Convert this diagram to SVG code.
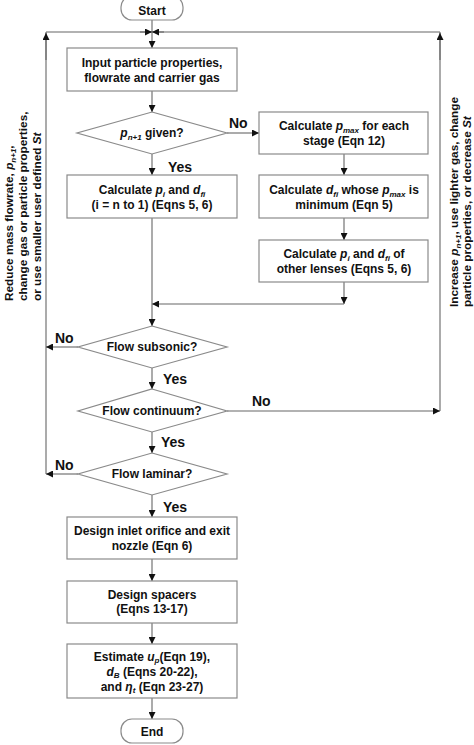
<svg xmlns="http://www.w3.org/2000/svg" width="474" height="745" viewBox="0 0 474 745">
<style>
  text { font-family: "Liberation Sans", Arial, sans-serif; font-weight: bold; font-size: 12px; fill: #111; }
  .c { text-anchor: middle; }
  .lbl { font-size: 14px; }
  .side { font-size: 11.8px; }
  .box { fill: #fff; stroke: #8a8a8a; stroke-width: 1.2; }
  .dia { fill: #fff; stroke: #8a8a8a; stroke-width: 1.2; }
  .ln { fill: none; stroke: #666; stroke-width: 1.1; }
  .i { font-style: italic; }
  .s { font-size: 8px; font-style: italic; }
</style>
<defs>
  <marker id="ah" viewBox="0 0 10 10" refX="10" refY="5" markerWidth="8" markerHeight="7" markerUnits="userSpaceOnUse" orient="auto">
    <path d="M0,0 L10,5 L0,10 Z" fill="#111"/>
  </marker>
</defs>
<rect width="474" height="745" fill="#fff"/>

<g id="connectors">
  <line class="ln" x1="152" y1="20" x2="152" y2="32"/>
  <line class="ln" x1="46" y1="474" x2="46" y2="32"/>
  <line class="ln" x1="46" y1="32" x2="440" y2="32"/>
  <line class="ln" x1="440" y1="411" x2="440" y2="32"/>
  <path class="ln" d="M46,60 L46,33" marker-end="url(#ah)"/>
  <path class="ln" d="M440,60 L440,33" marker-end="url(#ah)"/>
  <path class="ln" d="M140,32 L152,32" marker-end="url(#ah)"/>
  <path class="ln" d="M164,32 L152,32" marker-end="url(#ah)"/>
  <path class="ln" d="M152,32 L152,48" marker-end="url(#ah)"/>
  <path class="ln" d="M152,91 L152,112" marker-end="url(#ah)"/>
  <path class="ln" d="M227,133 L259,133" marker-end="url(#ah)"/>
  <path class="ln" d="M152,154 L152,175" marker-end="url(#ah)"/>
  <path class="ln" d="M344,154 L344,175" marker-end="url(#ah)"/>
  <path class="ln" d="M344,218 L344,240" marker-end="url(#ah)"/>
  <path class="ln" d="M344,282 L344,304" marker-end="url(#ah)"/>
  <path class="ln" d="M344,304 L152,304" marker-end="url(#ah)"/>
  <path class="ln" d="M152,218 L152,326" marker-end="url(#ah)"/>
  <path class="ln" d="M78,347 L46,347" marker-end="url(#ah)"/>
  <path class="ln" d="M152,368 L152,389" marker-end="url(#ah)"/>
  <path class="ln" d="M227,411 L440,411" marker-end="url(#ah)"/>
  <path class="ln" d="M152,432 L152,453" marker-end="url(#ah)"/>
  <path class="ln" d="M78,474 L46,474" marker-end="url(#ah)"/>
  <path class="ln" d="M152,495 L152,517" marker-end="url(#ah)"/>
  <path class="ln" d="M152,559 L152,581" marker-end="url(#ah)"/>
  <path class="ln" d="M152,623 L152,644" marker-end="url(#ah)"/>
  <path class="ln" d="M152,698 L152,719" marker-end="url(#ah)"/>
  <text class="lbl" x="229" y="128">No</text>
  <text class="lbl" x="168" y="172">Yes</text>
  <text class="lbl" x="55" y="343">No</text>
  <text class="lbl" x="163" y="384">Yes</text>
  <text class="lbl" x="252" y="406">No</text>
  <text class="lbl" x="161" y="447">Yes</text>
  <text class="lbl" x="55" y="470">No</text>
  <text class="lbl" x="163" y="512">Yes</text>
  <text class="side" transform="translate(13,301) rotate(-90)">Reduce mass flowrate, <tspan class="i">p</tspan><tspan class="s" dy="2.5">n+1</tspan><tspan dy="-2.5">,</tspan></text>
  <text class="side" transform="translate(27,301) rotate(-90)">change gas or particle properties,</text>
  <text class="side" transform="translate(41,301) rotate(-90)">or use smaller user defined <tspan class="i">St</tspan></text>
  <text class="side" transform="translate(458,307) rotate(-90)">Increase <tspan class="i">p</tspan><tspan class="s" dy="2.5">n+1</tspan><tspan dy="-2.5">, use lighter gas, change</tspan></text>
  <text class="side" transform="translate(470.5,307) rotate(-90)">particle properties, or decrease <tspan class="i">St</tspan></text>
</g>

<g id="start">
  <rect class="box" x="121" y="-4" width="62" height="24" rx="11"/>
  <text class="c" x="152" y="15">Start</text>
</g>
<g id="input">
  <rect class="box" x="67" y="48" width="170" height="43"/>
  <text class="c" x="152" y="66.5">Input particle properties,</text>
  <text class="c" x="152" y="81.5">flowrate and carrier gas</text>
</g>
<g id="pgiven">
  <polygon class="dia" points="152,112 227,133 152,154 77,133"/>
  <text class="c" x="152" y="137"><tspan class="i">p</tspan><tspan class="s" dy="3">n+1</tspan><tspan dy="-3"> given?</tspan></text>
</g>
<g id="pmax">
  <rect class="box" x="259" y="112" width="169" height="42"/>
  <text class="c" x="344" y="130">Calculate  <tspan class="i">p</tspan><tspan class="s" dy="3">max</tspan><tspan dy="-3"> for each</tspan></text>
  <text class="c" x="344" y="145">stage (Eqn 12)</text>
</g>
<g id="calcpi">
  <rect class="box" x="67" y="175" width="170" height="43"/>
  <text class="c" x="152" y="193.5">Calculate <tspan class="i">p</tspan><tspan class="s" dy="3">i</tspan><tspan dy="-3"> and </tspan><tspan class="i">d</tspan><tspan class="s" dy="3">fi</tspan></text>
  <text class="c" x="152" y="208.5">(i = n to 1) (Eqns 5, 6)</text>
</g>
<g id="calcdfi">
  <rect class="box" x="259" y="175" width="169" height="43"/>
  <text class="c" x="344" y="193.5">Calculate <tspan class="i">d</tspan><tspan class="s" dy="3">fi</tspan><tspan dy="-3"> whose </tspan><tspan class="i">p</tspan><tspan class="s" dy="3">max</tspan><tspan dy="-3"> is</tspan></text>
  <text class="c" x="344" y="208.5">minimum (Eqn 5)</text>
</g>
<g id="calcother">
  <rect class="box" x="259" y="240" width="169" height="42"/>
  <text class="c" x="344" y="258">Calculate <tspan class="i">p</tspan><tspan class="s" dy="3">i</tspan><tspan dy="-3"> and </tspan><tspan class="i">d</tspan><tspan class="s" dy="3">fi</tspan><tspan dy="-3"> of</tspan></text>
  <text class="c" x="344" y="273">other lenses (Eqns 5, 6)</text>
</g>
<g id="subsonic">
  <polygon class="dia" points="152,326 227,347 152,368 78,347"/>
  <text class="c" x="152" y="351">Flow subsonic?</text>
</g>
<g id="continuum">
  <polygon class="dia" points="152,389 227,411 152,432 78,411"/>
  <text class="c" x="152" y="415">Flow continuum?</text>
</g>
<g id="laminar">
  <polygon class="dia" points="152,453 227,474 152,495 78,474"/>
  <text class="c" x="152" y="478">Flow laminar?</text>
</g>
<g id="inlet">
  <rect class="box" x="67" y="517" width="170" height="42"/>
  <text class="c" x="152" y="535">Design inlet orifice and exit</text>
  <text class="c" x="152" y="550">nozzle (Eqn 6)</text>
</g>
<g id="spacers">
  <rect class="box" x="67" y="581" width="170" height="42"/>
  <text class="c" x="152" y="599">Design spacers</text>
  <text class="c" x="152" y="613">(Eqns 13-17)</text>
</g>
<g id="estimate">
  <rect class="box" x="67" y="644" width="170" height="54"/>
  <text class="c" x="152" y="660.5">Estimate <tspan class="i">u</tspan><tspan class="s" dy="2">p</tspan><tspan dy="-2">(Eqn 19),</tspan></text>
  <text class="c" x="152" y="675.5"><tspan class="i">d</tspan><tspan class="s" dy="2">B</tspan><tspan dy="-2"> (Eqns 20-22),</tspan></text>
  <text class="c" x="152" y="690.5">and <tspan class="i">η</tspan><tspan class="s" dy="2">t</tspan><tspan dy="-2"> (Eqn 23-27)</tspan></text>
</g>
<g id="end">
  <rect class="box" x="121" y="719" width="62" height="24" rx="11"/>
  <text class="c" x="152" y="735.5">End</text>
</g>
</svg>
